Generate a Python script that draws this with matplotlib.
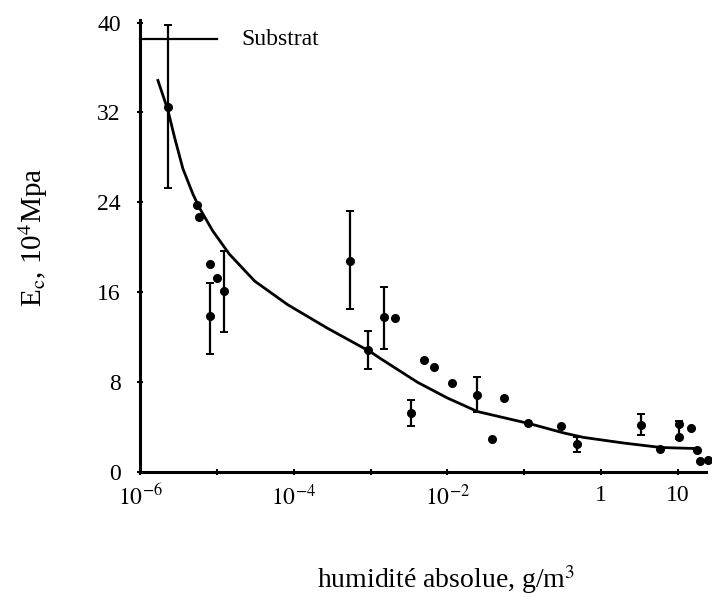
import matplotlib
matplotlib.use("Agg")
import matplotlib.pyplot as plt
from matplotlib.ticker import NullFormatter
import numpy as np

plt.rcParams["font.family"] = ["Liberation Serif", "DejaVu Serif"]
plt.rcParams["mathtext.fontset"] = "stix"

# fitted curve (log10 of humidity, modulus)
curve_logx = [-5.77, -5.64, -5.554, -5.445, -5.315, -5.229, -5.055, -4.84, -4.51, -4.08,
              -3.56, -3.0, -2.87, -2.39, -2.0, -1.61, -0.92, -0.49, -0.23, 0.29,
              0.78, 1.27]
curve_y = [34.85, 32.2, 29.8, 27.0, 24.75, 23.5, 21.45, 19.4, 17.0, 14.9,
           12.8, 10.7, 10.1, 8.0, 6.6, 5.4, 4.3, 3.5, 3.1, 2.6,
           2.2, 2.1]

# points with error bars
eb_logx = [-5.64, -4.91, -5.09, -3.27, -2.82, -3.03, -1.61, -2.48, -0.32, 0.52, 1.01]
eb_y = [32.5, 16.1, 13.9, 18.8, 13.8, 10.9, 6.9, 5.3, 2.5, 4.2, 4.3]
eb_lo = [25.3, 12.5, 10.5, 14.5, 11.0, 9.2, 5.4, 4.1, 1.8, 3.3, 3.0]
eb_hi = [39.8, 19.7, 16.8, 23.2, 16.5, 12.6, 8.5, 6.4, 3.1, 5.2, 4.6]

# single points
pt_logx = [-5.26, -5.23, -5.09, -5.0, -2.68, -2.31, -2.17, -1.94, -1.26, -1.42,
           -0.95, -0.52, 0.77, 1.01, 1.17, 1.25, 1.29, 1.39]
pt_y = [23.8, 22.7, 18.5, 17.3, 13.7, 10.0, 9.4, 7.9, 6.6, 3.0,
        4.4, 4.1, 2.1, 3.1, 3.9, 2.0, 1.0, 1.1]

substrat_y = 38.5

fig = plt.figure(figsize=(7.12, 5.97), dpi=100)
ax = fig.add_axes([0.197, 0.209, 0.795, 0.757])

ax.plot(10 ** np.array(curve_logx), curve_y, color="black", lw=2.0,
        solid_joinstyle="round")

ebx = 10 ** np.array(eb_logx)
eby = np.array(eb_y)
yerr = [eby - np.array(eb_lo), np.array(eb_hi) - eby]
ax.errorbar(ebx, eby, yerr=yerr, fmt="o", color="black", ms=5.5,
            elinewidth=1.6, capsize=3, capthick=1.4, clip_on=False)

ax.plot(10 ** np.array(pt_logx), pt_y, "o", color="black", ms=5.5, clip_on=False)

ax.plot([1e-6, 1e-5], [substrat_y, substrat_y], color="black", lw=1.6, clip_on=False)
ax.text(10 ** -4.69, substrat_y, "Substrat", fontsize=17, va="center", ha="left")

ax.set_xscale("log")
ax.set_xlim(1e-6, 10 ** 1.37)
ax.set_ylim(0, 40.2)

ax.set_xticks([1e-6, 1e-4, 1e-2, 1, 10])
ax.set_xticklabels([r"$10^{-6}$", r"$10^{-4}$", r"$10^{-2}$", "1", "10"])
ax.set_xticks([1e-5, 1e-3, 1e-1], minor=True)
ax.xaxis.set_minor_formatter(NullFormatter())
ax.set_yticks([0, 8, 16, 24, 32, 40])

ax.tick_params(axis="both", which="both", direction="inout", length=4, width=1.5,
               labelsize=17)
ax.tick_params(axis="x", pad=7)
ax.tick_params(axis="y", pad=12)

for s in ["top", "right"]:
    ax.spines[s].set_visible(False)
for s in ["left", "bottom"]:
    ax.spines[s].set_linewidth(2.2)

ax.set_xlabel("humidité absolue, g/m$^3$", fontsize=20)
ax.xaxis.set_label_coords(0.54, -0.2)
ax.set_ylabel(r"E$_\mathrm{c}$, 10$^4$Mpa", fontsize=21)
ax.yaxis.set_label_coords(-0.16, 0.52)

plt.savefig("out.png", dpi=100)
